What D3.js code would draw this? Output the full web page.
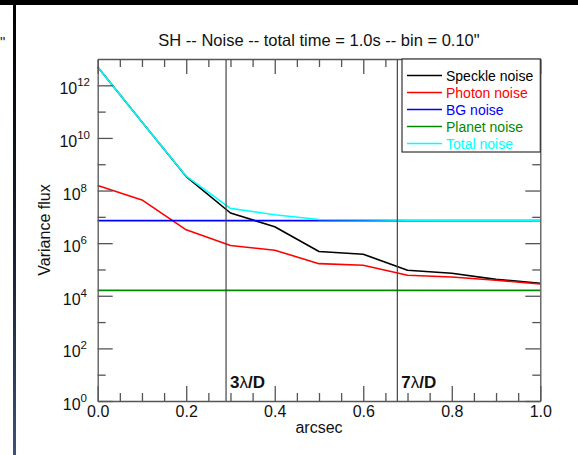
<!DOCTYPE html>
<html><head><meta charset="utf-8">
<script src="https://cdn.jsdelivr.net/npm/d3@7"></script>
<style>
html,body{margin:0;padding:0;background:#fff;}
svg{display:block;font-family:"Liberation Sans",Arial,Helvetica,sans-serif;}
</style></head>
<body>
<svg id="c" width="578" height="455"></svg>
<script>
// ---- data ----
const arcsec = [0.0, 0.1, 0.2, 0.3, 0.4, 0.5, 0.6, 0.7, 0.8, 0.9, 1.0];
const speckleNoise = [5e12, 4e10, 3.4e8, 1.4e7, 4.2e6, 4.8e5, 3.8e5, 9.3e4, 7.2e4, 4.2e4, 3.0e4];
const photonNoise  = [1.55e8, 4.4e7, 3.2e6, 8.1e5, 5.4e5, 1.66e5, 1.45e5, 6.0e4, 5.2e4, 3.9e4, 2.8e4];
const bgNoise      = [7.2e6, 7.2e6, 7.2e6, 7.2e6, 7.2e6, 7.2e6, 7.2e6, 7.2e6, 7.2e6, 7.2e6, 7.2e6];
const planetNoise  = [1.6e4, 1.6e4, 1.6e4, 1.6e4, 1.6e4, 1.6e4, 1.6e4, 1.6e4, 1.6e4, 1.6e4, 1.6e4];
const totalNoise   = [5e12, 4e10, 3.5e8, 2.1e7, 1.2e7, 7.9e6, 7.8e6, 7.4e6, 7.3e6, 7.3e6, 7.2e6];
const seriesNames  = ["Speckle noise", "Photon noise", "BG noise", "Planet noise", "Total noise"];
const seriesColors = ["#000000", "#ff0000", "#0000ff", "#008a00", "#00ffff"];
const xMajorTicks = [0.0, 0.2, 0.4, 0.6, 0.8, 1.0];
const yMajorExponents = [0, 2, 4, 6, 8, 10, 12];
const markerPositions = [0.29, 0.677];
const markerLabels = ["3", "7"];
const titleText = "SH -- Noise -- total time = 1.0s -- bin = 0.10\"";

const svg = d3.select("#c");
const L = 97.7, R = 540.3, T = 59, B = 401;
const x = d3.scaleLinear().domain([0, 1]).range([L, R]);
const y = d3.scaleLog().domain([1, 1e13]).range([B, T]);
const axisColor = "#555";

// page decorations (screenshot frame)
const grad = svg.append("defs").append("linearGradient").attr("id","vg").attr("x1",0).attr("y1",0).attr("x2",0).attr("y2",1);
grad.append("stop").attr("offset","0%").attr("stop-color","#000");
grad.append("stop").attr("offset","60%").attr("stop-color","#1c2438");
grad.append("stop").attr("offset","100%").attr("stop-color","#3e5178");
svg.append("rect").attr("x",0).attr("y",0).attr("width",578).attr("height",5).attr("fill","#000");
svg.append("rect").attr("x",13).attr("y",0).attr("width",3).attr("height",455).attr("fill","url(#vg)");
svg.append("text").attr("x",0).attr("y",47).attr("font-size",15).attr("fill","#222").text("\"");

// title
svg.append("text").attr("x",(L+R)/2).attr("y",46).attr("text-anchor","middle")
  .attr("font-size",16.5).attr("fill","#111").text(titleText);

// lines
const lineGen = d3.line().x((d,i)=>x(arcsec[i])).y(d=>y(d));
const allSeries = [speckleNoise, photonNoise, bgNoise, planetNoise, totalNoise];
allSeries.forEach((s,k)=>{
  svg.append("path").datum(s).attr("d", lineGen).attr("fill","none")
    .attr("stroke", seriesColors[k]).attr("stroke-width",1.6).attr("stroke-linejoin","round");
});

// vertical marker lines
markerPositions.forEach((m,i)=>{
  svg.append("line").attr("x1",x(m)).attr("x2",x(m)).attr("y1",T).attr("y2",B)
    .attr("stroke","#444").attr("stroke-width",1.2);
  const t = svg.append("text").attr("x",x(m)+4).attr("y",388).attr("font-size",17)
    .attr("font-weight","bold").attr("fill","#111");
  t.append("tspan").text(markerLabels[i]);
  t.append("tspan").attr("font-weight","normal").text("\u03bb");
  t.append("tspan").text("/D");
});

// axes
const xMinor = d3.range(0, 1.0001, 0.05).filter(v=>!xMajorTicks.some(m=>Math.abs(m-v)<1e-6));
const yMinor = d3.range(1, 13, 2).map(e=>Math.pow(10,e));
const yMajor = yMajorExponents.map(e=>Math.pow(10,e));

function styleAxis(g){
  g.selectAll("path").attr("stroke",axisColor).attr("stroke-width",1.3);
  g.selectAll("line").attr("stroke",axisColor).attr("stroke-width",1.3);
}
// bottom
svg.append("g").attr("transform",`translate(0,${B})`)
  .call(d3.axisBottom(x).tickValues(xMajorTicks).tickSize(-15).tickSizeOuter(0).tickPadding(5).tickFormat(d3.format(".1f")))
  .call(styleAxis)
  .call(g=>g.selectAll("text").attr("font-size",16).attr("fill","#111").attr("font-family","Liberation Sans, Arial, sans-serif"));
svg.append("g").attr("transform",`translate(0,${B})`)
  .call(d3.axisBottom(x).tickValues(xMinor).tickSize(-8).tickSizeOuter(0).tickFormat(""))
  .call(styleAxis).call(g=>g.select("path").remove());
// top
svg.append("g").attr("transform",`translate(0,${T})`)
  .call(d3.axisTop(x).tickValues(xMajorTicks).tickSize(-15).tickSizeOuter(0).tickFormat(""))
  .call(styleAxis);
svg.append("g").attr("transform",`translate(0,${T})`)
  .call(d3.axisTop(x).tickValues(xMinor).tickSize(-8).tickSizeOuter(0).tickFormat(""))
  .call(styleAxis).call(g=>g.select("path").remove());
// left
svg.append("g").attr("transform",`translate(${L},0)`)
  .call(d3.axisLeft(y).tickValues(yMajor).tickSize(-15).tickSizeOuter(0).tickFormat(""))
  .call(styleAxis);
svg.append("g").attr("transform",`translate(${L},0)`)
  .call(d3.axisLeft(y).tickValues(yMinor).tickSize(-8).tickSizeOuter(0).tickFormat(""))
  .call(styleAxis).call(g=>g.select("path").remove());
// right
svg.append("g").attr("transform",`translate(${R},0)`)
  .call(d3.axisRight(y).tickValues(yMajor).tickSize(-15).tickSizeOuter(0).tickFormat(""))
  .call(styleAxis);
svg.append("g").attr("transform",`translate(${R},0)`)
  .call(d3.axisRight(y).tickValues(yMinor).tickSize(-8).tickSizeOuter(0).tickFormat(""))
  .call(styleAxis).call(g=>g.select("path").remove());

// y tick labels with superscripts
yMajorExponents.forEach(e=>{
  const yy = y(Math.pow(10,e));
  const t = svg.append("text").attr("x",e>=10?90:87).attr("y",yy+9).attr("text-anchor","end")
    .attr("font-size",16).attr("fill","#111");
  t.append("tspan").text("10");
  t.append("tspan").attr("font-size",11.5).attr("dy",-8).text(String(e));
});

// axis titles
svg.append("text").attr("x",(L+R)/2).attr("y",433).attr("text-anchor","middle")
  .attr("font-size",16).attr("fill","#111").text("arcsec");
svg.append("text").attr("transform",`translate(50,${(T+B)/2}) rotate(-90)`).attr("text-anchor","middle")
  .attr("font-size",16).attr("fill","#111").text("Variance flux");

// legend
const lgX = 402, lgY = T, lgW = R - 402, lgH = 93;
svg.append("rect").attr("x",lgX).attr("y",lgY).attr("width",lgW).attr("height",lgH)
  .attr("fill","#fff").attr("stroke","#333").attr("stroke-width",1.2);
seriesNames.forEach((n,i)=>{
  const yy = 75.5 + i*17;
  svg.append("line").attr("x1",407).attr("x2",442).attr("y1",yy).attr("y2",yy)
    .attr("stroke",seriesColors[i]).attr("stroke-width",1.6);
  svg.append("text").attr("x",446).attr("y",yy+5).attr("font-size",14)
    .attr("fill",seriesColors[i]).text(n);
});
</script>
</body></html>
